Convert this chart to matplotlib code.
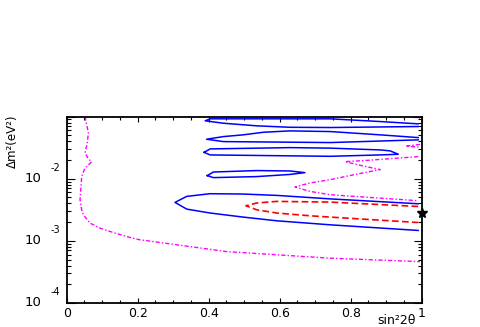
import matplotlib
matplotlib.use('Agg')
import matplotlib.pyplot as plt
import matplotlib.transforms as mtransforms
from matplotlib.ticker import MultipleLocator, LogLocator, NullFormatter

plt.rcParams['font.family'] = ['DejaVu Sans']

# exclusion / allowed-region contours (sin^2 2theta, dm^2 in eV^2)
blue_a_x = [0.990, 0.883, 0.742, 0.404, 0.390, 0.441, 0.535, 0.629, 0.742, 0.990]
blue_a_y = [0.0762, 0.0830, 0.0918, 0.0918, 0.0853, 0.0780, 0.0708, 0.0671, 0.0665, 0.0690]

blue_b_x = [0.990, 0.883, 0.742, 0.629, 0.554, 0.497, 0.441, 0.394, 0.441, 0.742, 0.990]
blue_b_y = [0.0458, 0.0507, 0.0573, 0.0587, 0.0558, 0.0507, 0.0475, 0.0431, 0.0395, 0.0381, 0.0421]

blue_c_x = [0.387, 0.404, 0.629, 0.742, 0.883, 0.911, 0.934, 0.883, 0.742, 0.404, 0.387]
blue_c_y = [0.0265, 0.0301, 0.0316, 0.0310, 0.0290, 0.0280, 0.0247, 0.0241, 0.0229, 0.0241, 0.0265]

blue_d_x = [0.396, 0.413, 0.535, 0.629, 0.671, 0.629, 0.535, 0.413, 0.396]
blue_d_y = [0.0112, 0.0128, 0.0135, 0.0133, 0.0125, 0.0117, 0.0108, 0.0104, 0.0112]

blue_e_x = [0.990, 0.742, 0.592, 0.497, 0.404, 0.338, 0.305, 0.338, 0.404, 0.497, 0.592, 0.742, 0.990]
blue_e_y = [0.00395, 0.00473, 0.00538, 0.00566, 0.00573, 0.00519, 0.00415,
            0.00324, 0.00280, 0.00241, 0.00210, 0.00181, 0.00147]

red_x = [0.990, 0.742, 0.592, 0.535, 0.505, 0.535, 0.592, 0.685, 0.742, 0.990]
red_y = [0.00357, 0.00420, 0.00431, 0.00406, 0.00367, 0.00316, 0.00280, 0.00253, 0.00241, 0.00197]

mag_left_x = [0.0515, 0.0563, 0.061, 0.058, 0.0515, 0.061, 0.0704, 0.0515, 0.0423, 0.0403,
              0.0375, 0.0423, 0.0468, 0.0656, 0.0938, 0.131, 0.169, 0.206, 0.263, 0.451, 0.742, 0.995]
mag_left_y = [0.1, 0.0743, 0.0546, 0.0377, 0.0260, 0.0208, 0.0186, 0.0149, 0.0109, 0.00752,
              0.00458, 0.00316, 0.00262, 0.00193, 0.00160, 0.00136, 0.00117, 0.00104, 0.00094,
              0.000671, 0.000526, 0.000463]

mag_right_x = [0.990, 0.835, 0.784, 0.835, 0.883, 0.835, 0.742, 0.685, 0.643, 0.685, 0.742, 0.990]
mag_right_y = [0.0226, 0.0195, 0.0188, 0.0160, 0.0140, 0.0124, 0.00964, 0.00853, 0.00735,
               0.00624, 0.00552, 0.00442]

mag_tip_x = [0.995, 0.955, 0.995]
mag_tip_y = [0.0355, 0.0335, 0.0320]

mag_top_x = [0.975, 0.995]
mag_top_y = [0.0985, 0.0940]

best_x = [1.0]
best_y = [0.0028]

x_ticks = [0, 0.2, 0.4, 0.6, 0.8, 1]
x_tick_labels = ['0', '0.2', '0.4', '0.6', '0.8', '1']
y_decades = [-4, -3, -2]

fig = plt.figure(figsize=(4.8, 3.27), dpi=100)
ax = fig.add_axes([0.139, 0.0734, 0.7396, 0.5703])

for xs, ys in [(blue_a_x, blue_a_y), (blue_b_x, blue_b_y), (blue_c_x, blue_c_y),
               (blue_d_x, blue_d_y), (blue_e_x, blue_e_y)]:
    ax.plot(xs, ys, color='#0000ff', lw=1.1)

ax.plot(red_x, red_y, color='#ff0000', lw=1.2, ls=(0, (4, 2)))

magenta_style = dict(color='#ff00ff', lw=1.0, ls=(0, (3, 1.5, 1, 1.5)))
ax.plot(mag_left_x, mag_left_y, **magenta_style)
ax.plot(mag_right_x, mag_right_y, **magenta_style)
ax.plot(mag_tip_x, mag_tip_y, **magenta_style)
ax.plot(mag_top_x, mag_top_y, **magenta_style)

ax.plot(best_x, best_y, marker='*', color='black', ms=7, ls='none', clip_on=False, zorder=5)

ax.set_xlim(0, 1)
ax.set_yscale('log')
ax.set_ylim(1e-4, 1e-1)

ax.set_xticks(x_ticks)
ax.set_xticklabels(x_tick_labels, fontsize=9)
ax.xaxis.set_minor_locator(MultipleLocator(0.05))
ax.yaxis.set_major_locator(LogLocator(base=10, numticks=10))
ax.yaxis.set_minor_locator(LogLocator(base=10, subs=range(2, 10), numticks=20))
ax.yaxis.set_major_formatter(NullFormatter())
ax.yaxis.set_minor_formatter(NullFormatter())

ax.tick_params(which='both', direction='in', top=True, right=True, width=0.8)
ax.tick_params(axis='x', which='major', length=3.5, pad=3)
ax.tick_params(axis='x', which='minor', length=2)
ax.tick_params(axis='y', which='major', length=5.5)
ax.tick_params(axis='y', which='minor', length=3)
for sp in ax.spines.values():
    sp.set_linewidth(1.3)

# ROOT-style "10" with a detached exponent
trans = mtransforms.blended_transform_factory(ax.transAxes, ax.transData)
for e in y_decades:
    ax.text(-0.070, 10.0 ** e, '10', transform=trans, ha='right', va='center', fontsize=9.5)
    ax.text(-0.047, 10.0 ** (e + 0.17), str(e), transform=trans, ha='left', va='center', fontsize=7)

fig.text(12 / 480, 1 - 114 / 327, 'Δm²(eV²)', rotation=90, ha='center', va='top', fontsize=8.5)
fig.text(416 / 480, 1 - 324.5 / 327, 'sin²2θ', ha='right', va='baseline', fontsize=9)

fig.savefig('out.png', dpi=100)
